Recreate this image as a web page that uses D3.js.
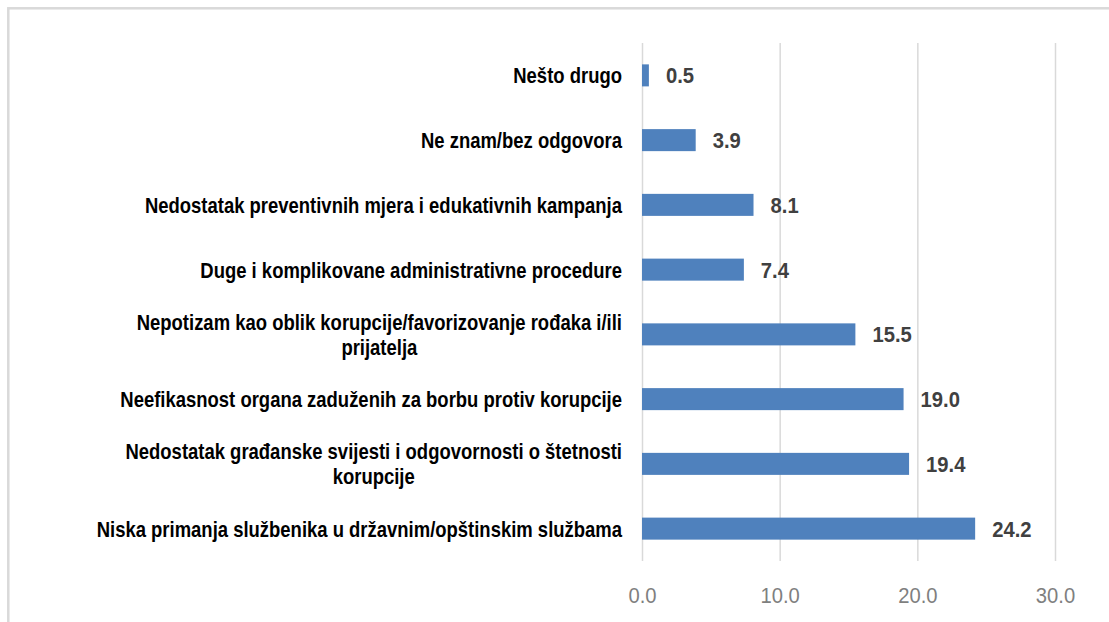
<!DOCTYPE html>
<html>
<head>
<meta charset="utf-8">
<script src="https://cdn.jsdelivr.net/npm/d3@7"></script>
<style>
  html, body { margin: 0; padding: 0; background: #fff; }
  svg { display: block; }
</style>
</head>
<body>
<div id="chart"></div>
<script>
// categories top to bottom, "\n" marks the line break used in the original
const categories = [
  "Nešto drugo",
  "Ne znam/bez odgovora",
  "Nedostatak preventivnih mjera i edukativnih kampanja",
  "Duge i komplikovane administrativne procedure",
  "Nepotizam kao oblik korupcije/favorizovanje rođaka i/ili\nprijatelja",
  "Neefikasnost organa zaduženih za borbu protiv korupcije",
  "Nedostatak građanske svijesti i odgovornosti o štetnosti\nkorupcije",
  "Niska primanja službenika u državnim/opštinskim službama"
]
const values = [0.5, 3.9, 8.1, 7.4, 15.5, 19.0, 19.4, 24.2]
const xTicks = [0, 10, 20, 30]

const W = 1109, H = 622
const svg = d3.select("#chart").append("svg").attr("width", W).attr("height", H)

// chart area border (cut off on the right and bottom in the original)
svg.append("rect")
  .attr("x", 8.3).attr("y", 8.3).attr("width", W + 20).attr("height", H + 20)
  .attr("fill", "#fff").attr("stroke", "#d9d9d9").attr("stroke-width", 2.5)

const x = d3.scaleLinear().domain([0, 30]).range([642, 1055])
const y = d3.scaleBand().domain(categories).range([43, 561])
  .paddingInner(0.66).paddingOuter(0.33)

// the original's text is a narrow face; squeeze Liberation Sans horizontally
const narrow = 0.84, numNarrow = 0.92

// gridlines + tick labels
const gx = svg.append("g").attr("transform", `translate(0,${y.range()[1]})`)
  .call(d3.axisBottom(x).tickValues(xTicks).tickFormat(d3.format(".1f"))
    .tickSize(-(y.range()[1] - y.range()[0])).tickPadding(26))
gx.select(".domain").remove()
gx.selectAll(".tick line").attr("stroke", "#d9d9d9").attr("stroke-width", 1.5)
gx.selectAll(".tick text")
  .attr("fill", "#7f7f7f")
  .attr("transform", `scale(${numNarrow},1)`)
  .style("font-family", "'Liberation Sans', Arial, sans-serif")
  .style("font-size", "22px")

// bars
svg.append("g").selectAll("rect").data(categories).join("rect")
  .attr("x", x(0))
  .attr("y", d => y(d))
  .attr("width", (d, i) => x(values[i]) - x(0))
  .attr("height", y.bandwidth())
  .attr("fill", "#4f81bd")

// value labels
svg.append("g").selectAll("text").data(categories).join("text")
  .attr("transform", (d, i) => `translate(${x(values[i]) + 17},${y(d) + y.bandwidth() / 2}) scale(${numNarrow},1)`)
  .attr("dy", "0.36em")
  .attr("fill", "#404040")
  .style("font-family", "'Liberation Sans', Arial, sans-serif")
  .style("font-weight", "bold")
  .style("font-size", "22px")
  .text((d, i) => values[i].toFixed(1))

// category labels, right-aligned block, wrapped lines centred on each other
const labelRight = 622, lineH = 25
const labels = svg.append("g")
  .style("font-family", "'Liberation Sans', Arial, sans-serif")
  .style("font-weight", "bold")
  .style("font-size", "22px")
  .attr("fill", "#000")

labels.selectAll("text").data(categories).join("text")
  .attr("transform", d => `translate(${labelRight},${y(d) + y.bandwidth() / 2}) scale(${narrow},1)`)
  .each(function (d) {
    const lines = d.split("\n"),
      t = d3.select(this),
      y0 = -(lines.length - 1) * lineH / 2
    lines.forEach((l, k) => t.append("tspan").attr("y", y0 + k * lineH).attr("dy", "0.36em").text(l))
    if (lines.length === 1) {
      t.attr("text-anchor", "end").select("tspan").attr("x", 0)
    } else {
      const widths = t.selectAll("tspan").nodes().map(n => n.getComputedTextLength())
      t.attr("text-anchor", "middle").selectAll("tspan").attr("x", -d3.max(widths) / 2)
    }
  })
</script>
</body>
</html>
